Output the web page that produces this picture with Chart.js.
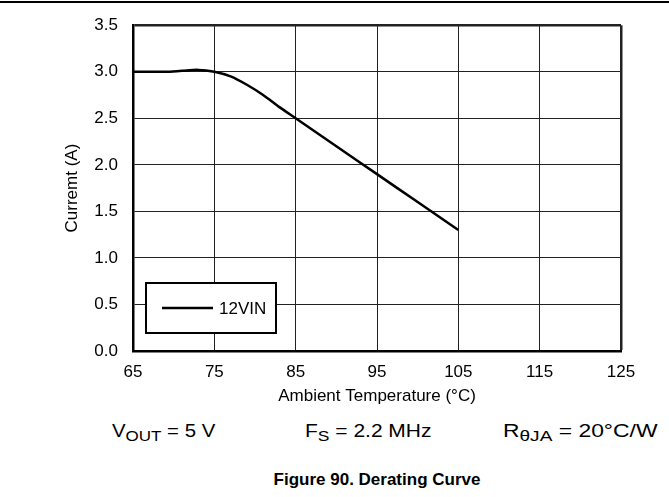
<!DOCTYPE html>
<html>
<head>
<meta charset="utf-8">
<script src="https://cdn.jsdelivr.net/npm/chart.js@4/dist/chart.umd.min.js"></script>
<style>
    body { margin: 0; background: #fff; width: 669px; height: 497px; position: relative; overflow: hidden; font-family: "Liberation Sans", Arial, sans-serif; }
    #topline { position: absolute; left: 0; top: 1px; width: 669px; height: 2px; background: #000; }
    #wrap { position: absolute; left: 0; top: 0; width: 669px; height: 420px; }
    .note { position: absolute; top: 421px; line-height: 20px; font-size: 18px; color: #000; white-space: nowrap; transform-origin: 0 50%; }
    .note sub { font-size: 15px; vertical-align: -4px; line-height: 0; }
    #caption { position: absolute; top: 470px; left: 0; width: 754px; text-align: center; font-size: 17px; font-weight: bold; line-height: 20px; }
</style>
</head>
<body>
<div id="topline"></div>
<div id="wrap"><canvas id="chart-1"></canvas></div>
<div class="note" data-w="103" style="left:112px">V<sub>OUT</sub> = 5 V</div>
<div class="note" data-w="127" style="left:305px">F<sub>S</sub> = 2.2 MHz</div>
<div class="note" data-w="155" style="left:503px">R<sub>θJA</sub> = 20°C/W</div>
<div id="caption">Figure 90. Derating Curve</div>

<script>
// values
var temps = [65, 67, 69, 71, 73, 75, 77, 79, 81, 83, 85, 90, 95, 100, 105];
var current = [3.00, 3.00, 3.00, 3.01, 3.02, 3.00, 2.95, 2.86, 2.75, 2.62, 2.50, 2.20, 1.90, 1.60, 1.30];
var seriesName = '12VIN';
var xTicks = [65, 75, 85, 95, 105, 115, 125];
var yTicks = [0, 0.5, 1.0, 1.5, 2.0, 2.5, 3.0, 3.5];

var FONT = "'Liberation Sans', Arial, sans-serif";

// the condition notes under the chart are a bit wider in the original, stretch them to fit
document.querySelectorAll('.note').forEach(function (el) {
    var s = Number(el.dataset.w) / el.offsetWidth;
    el.style.transform = 'scaleX(' + s + ')';
});

// boxed legend inside the plot area (lower left)
var boxLegend = {
    id: 'boxLegend',
    afterDatasetsDraw: function (chart) {
        var ctx = chart.ctx;
        var a = chart.chartArea;
        var x = a.left + 13, y = a.bottom - 68, w = 130, h = 50;
        var ds = chart.data.datasets[0];
        ctx.save();
        ctx.fillStyle = '#fff';
        ctx.fillRect(x, y, w, h);
        ctx.strokeStyle = '#000';
        ctx.lineWidth = 2;
        ctx.strokeRect(x, y, w, h);
        ctx.beginPath();
        ctx.moveTo(x + 16, y + 25);
        ctx.lineTo(x + 67, y + 25);
        ctx.lineWidth = ds.borderWidth;
        ctx.stroke();
        ctx.fillStyle = '#000';
        ctx.font = '17px ' + FONT;
        ctx.textBaseline = 'middle';
        ctx.fillText(ds.label, x + 73, y + 26);
        ctx.restore();
    }
};

var data = {
    datasets: [{
        label: seriesName,
        data: temps.map(function (t, i) { return { x: t, y: current[i] }; }),
        borderColor: '#000',
        borderWidth: 2.5,
        pointRadius: 0,
        tension: 0.3,
        fill: false
    }]
};

var options = {
    responsive: true,
    maintainAspectRatio: false,
    animation: false,
    layout: { padding: { left: 0, right: 48, top: 19, bottom: 0 } },
    scales: {
        x: {
            type: 'linear',
            min: 65,
            max: 125,
            afterBuildTicks: function (scale) {
                scale.ticks = xTicks.map(function (v) { return { value: v }; });
            },
            afterFit: function (scale) { scale.height = 69; },
            grid: {
                color: '#222',
                lineWidth: function (c) { return c.tick && c.tick.value === 125 ? 2.5 : 1; },
                drawTicks: false
            },
            border: { display: true, color: '#000', width: 2.5 },
            ticks: { color: '#000', padding: 11, font: { family: FONT, size: 17 } },
            title: {
                display: true,
                text: 'Ambient Temperature (°C)',
                color: '#000',
                font: { family: FONT, size: 17 },
                padding: { top: 0, bottom: 13 }
            }
        },
        y: {
            min: 0,
            max: 3.5,
            afterBuildTicks: function (scale) {
                scale.ticks = yTicks.map(function (v) { return { value: v }; });
            },
            afterFit: function (scale) { scale.width = 133; },
            grid: {
                color: '#222',
                lineWidth: function (c) { return c.tick && c.tick.value === 3.5 ? 2.5 : 1; },
                drawTicks: false
            },
            border: { display: true, color: '#000', width: 2.5 },
            ticks: {
                color: '#000',
                padding: 15,
                font: { family: FONT, size: 17 },
                callback: function (value) { return value.toFixed(1); }
            },
            title: {
                display: true,
                text: 'Curremt (A)',
                color: '#000',
                font: { family: FONT, size: 17 },
                padding: { top: 62, bottom: 0 }
            }
        }
    },
    plugins: {
        legend: { display: false },
        tooltip: { enabled: false }
    }
};

var ctx = document.getElementById('chart-1').getContext('2d');
var chart = new Chart(ctx, {
    type: 'line',
    data: data,
    options: options,
    plugins: [boxLegend]
});
</script>
</body>
</html>
